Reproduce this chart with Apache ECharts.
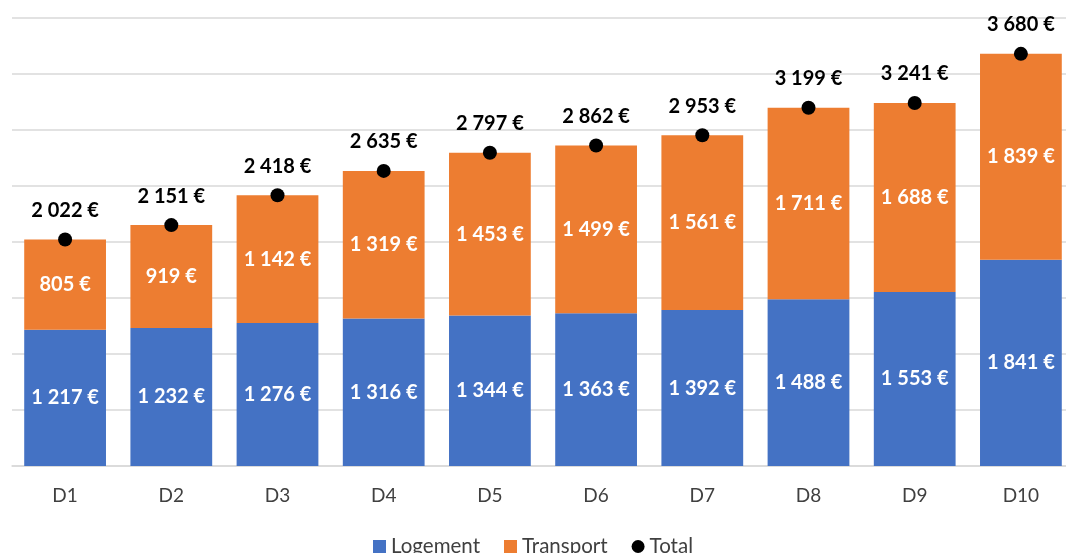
<!DOCTYPE html>
<html>
<head>
<meta charset="utf-8">
<script src="https://cdn.jsdelivr.net/npm/echarts@6/dist/echarts.min.js"></script>
<style>
  html, body { margin: 0; padding: 0; background: #fff; }
  #chart { width: 1066px; height: 553px; }
</style>
</head>
<body>
<div id="chart"></div>
<script>
var categories = ['D1', 'D2', 'D3', 'D4', 'D5', 'D6', 'D7', 'D8', 'D9', 'D10'];
var logement = [1217, 1232, 1276, 1316, 1344, 1363, 1392, 1488, 1553, 1841];
var transport = [805, 919, 1142, 1319, 1453, 1499, 1561, 1711, 1688, 1839];
var total = [2022, 2151, 2418, 2635, 2797, 2862, 2953, 3199, 3241, 3680];

function euro(v) {
    return String(v).replace(/\B(?=(\d{3})+(?!\d))/g, ' ') + ' €';
}

var font = 'Lato, "Open Sans", sans-serif';

var chart = echarts.init(document.getElementById('chart'));
chart.setOption({
    animation: false,
    textStyle: {fontFamily: font},
    grid: {left: 12, width: 1062, top: 18, height: 448, outerBoundsMode: 'none'},
    legend: {
        bottom: -9,
        itemGap: 24,
        itemWidth: 13,
        itemHeight: 13,
        textStyle: {fontSize: 20.5, color: '#404040', fontFamily: font},
        data: [
            {name: 'Logement', icon: 'rect'},
            {name: 'Transport', icon: 'rect'},
            {name: 'Total', icon: 'circle'}
        ]
    },
    xAxis: {
        type: 'category',
        data: categories,
        axisLine: {lineStyle: {color: '#d9d9d9', width: 1.5}},
        axisTick: {show: false},
        axisLabel: {color: '#404040', fontSize: 19, margin: 20}
    },
    yAxis: {
        type: 'value',
        min: 0,
        max: 4000,
        interval: 500,
        axisLabel: {show: false},
        axisLine: {show: false},
        axisTick: {show: false},
        splitLine: {lineStyle: {color: '#d9d9d9', width: 1.5}}
    },
    series: [
        {
            name: 'Logement',
            type: 'bar',
            stack: 'a',
            barWidth: '77%',
            itemStyle: {color: '#4472C4'},
            label: {
                show: true,
                position: 'inside',
                color: '#fff',
                fontWeight: 'bold',
                fontSize: 20,
                formatter: function (p) { return euro(p.value); }
            },
            data: logement
        },
        {
            name: 'Transport',
            type: 'bar',
            stack: 'a',
            itemStyle: {color: '#ED7D31'},
            label: {
                show: true,
                position: 'inside',
                color: '#fff',
                fontWeight: 'bold',
                fontSize: 20,
                formatter: function (p) { return euro(p.value); }
            },
            data: transport
        },
        {
            name: 'Total',
            type: 'scatter',
            symbol: 'circle',
            symbolSize: 14,
            itemStyle: {color: '#000', opacity: 1},
            label: {
                show: true,
                position: 'top',
                distance: 12,
                color: '#000',
                fontWeight: 'bold',
                fontSize: 20,
                formatter: function (p) { return euro(p.value); }
            },
            z: 5,
            data: total
        }
    ]
});
</script>
</body>
</html>
